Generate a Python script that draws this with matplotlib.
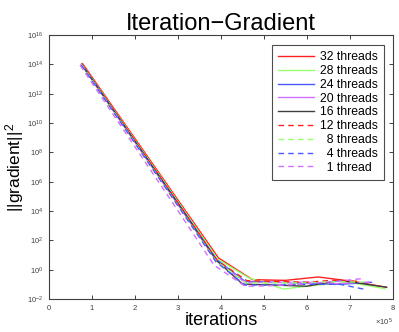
import matplotlib
matplotlib.use("Agg")
import matplotlib.pyplot as plt
from matplotlib.ticker import NullLocator, FixedLocator, FixedFormatter
import numpy as np

plt.rcParams['font.family'] = ['Liberation Sans', 'DejaVu Sans']
plt.rcParams['mathtext.fontset'] = 'custom'
plt.rcParams['mathtext.rm'] = 'Liberation Sans'
plt.rcParams['mathtext.it'] = 'Liberation Sans:italic'
plt.rcParams['mathtext.bf'] = 'Liberation Sans:bold'

# ---- data (iterations in units of 1e5, gradient norm as log10) ----
labels = ["32 threads", "28 threads", "24 threads", "20 threads", "16 threads",
          "12 threads", "  8 threads", "  4 threads", "  1 thread"]
colors = ["#ff2020", "#9cff70", "#4a58ff", "#d070ff", "#404040",
          "#ff2020", "#9cff70", "#4a58ff", "#d070ff"]
styles = ["-", "-", "-", "-", "-", "--", "--", "--", "--"]

x_32 = [0.78, 1.56, 2.34, 3.12, 3.94, 4.73, 5.49, 6.26, 7.02, 7.85]
y_32 = [14.05, 10.78, 7.51, 4.24, 0.8, -0.68, -0.73, -0.5, -0.78, -1.2]
x_28 = [0.77, 1.55, 2.33, 3.11, 3.92, 4.64, 5.45, 6.22, 7.02, 7.81]
y_28 = [14.0, 10.72, 7.44, 4.16, 0.72, -0.55, -1.32, -1.05, -0.88, -1.3]
x_24 = [0.76, 1.54, 2.32, 3.10, 3.90, 4.56, 5.27, 6.00, 6.77, 7.50]
y_24 = [14.0, 10.7, 7.4, 4.1, 0.68, -0.8, -0.86, -0.92, -1.0, -0.86]
x_20 = [0.75, 1.53, 2.31, 3.09, 3.89, 4.55, 5.20, 5.95, 6.70, 7.45]
y_20 = [14.0, 10.68, 7.36, 4.04, 0.62, -0.85, -0.88, -0.85, -0.95, -0.85]
x_16 = [0.76, 1.54, 2.32, 3.10, 3.90, 4.50, 5.24, 5.99, 6.77, 7.85]
y_16 = [14.0, 10.7, 7.4, 4.1, 0.62, -0.98, -1.05, -1.13, -0.73, -1.2]
x_12 = [0.76, 1.54, 2.32, 3.10, 3.90, 4.60, 5.26, 6.00, 6.60, 7.24]
y_12 = [14.0, 10.7, 7.4, 4.1, 0.65, -0.75, -0.8, -0.86, -0.72, -0.8]
x_8 = [0.75, 1.53, 2.31, 3.09, 3.88, 4.58, 5.20, 5.95, 6.65, 7.30]
y_8 = [14.0, 10.66, 7.32, 3.98, 0.6, -0.9, -0.9, -0.9, -0.82, -0.85]
x_4 = [0.75, 1.53, 2.31, 3.09, 3.88, 4.55, 5.20, 5.90, 6.77, 7.31]
y_4 = [13.95, 10.62, 7.29, 3.96, 0.55, -1.05, -1.05, -1.0, -1.0, -1.32]
x_1 = [0.72, 1.50, 2.28, 3.06, 3.84, 4.56, 5.10, 5.80, 6.60, 7.31]
y_1 = [13.95, 10.55, 7.15, 3.75, 0.3, -1.13, -1.1, -1.0, -0.82, -0.6]

xs = [x_32, x_28, x_24, x_20, x_16, x_12, x_8, x_4, x_1]
ys = [y_32, y_28, y_24, y_20, y_16, y_12, y_8, y_4, y_1]

ytick_exp = [-2, 0, 2, 4, 6, 8, 10, 12, 14, 16]
xticks = [0, 1, 2, 3, 4, 5, 6, 7, 8]

fig = plt.figure(figsize=(3.99, 3.32), dpi=100)
ax = fig.add_axes([49/399, 1 - 299/332, (393-49)/399, (299-35)/332])

for x, y, c, s, lab in zip(xs, ys, colors, styles, labels):
    ax.plot(np.array(x) * 1e5, 10.0 ** np.array(y), color=c, ls=s, lw=1.0,
            label=lab, dashes=(4, 3) if s == "--" else (None, None))

ax.set_yscale('log')
ax.set_ylim(1e-2, 1e16)
ax.set_xlim(0, 8e5)
ax.yaxis.set_major_locator(FixedLocator([10.0 ** k for k in ytick_exp]))
ax.yaxis.set_major_formatter(FixedFormatter([f'$10^{{{k}}}$' for k in ytick_exp]))
ax.yaxis.set_minor_locator(NullLocator())
ax.set_xticks([v * 1e5 for v in xticks])
ax.ticklabel_format(style='sci', axis='x', scilimits=(0, 0), useMathText=True)
ax.xaxis.offsetText.set_fontsize(5.5)
ax.xaxis.offsetText.set_color('#404040')

ax.tick_params(axis='both', which='both', direction='in', length=3, width=0.7,
               top=True, right=True, labelsize=5.5, labelcolor='#404040',
               color='#404040')
ax.tick_params(axis='y', pad=4)
ax.tick_params(axis='x', pad=3)
for sp in ax.spines.values():
    sp.set_color('#404040')
    sp.set_linewidth(0.8)

ax.set_title('Iteration\u2212Gradient', fontsize=17, pad=3)
ax.set_xlabel('iterations', fontsize=13, labelpad=0)
ax.set_ylabel('||gradient||$^2$', fontsize=12.5, labelpad=1)

leg = ax.legend(loc='upper right', bbox_to_anchor=(384/399, 1 - 45/332),
                bbox_transform=fig.transFigure, borderaxespad=0,
                fontsize=8.8, frameon=True, fancybox=False, handlelength=2.9,
                handletextpad=0.5, labelspacing=0.15, borderpad=0.5)
leg.get_frame().set_edgecolor('#202020')
leg.get_frame().set_linewidth(0.8)

fig.savefig('out.png', dpi=100)
